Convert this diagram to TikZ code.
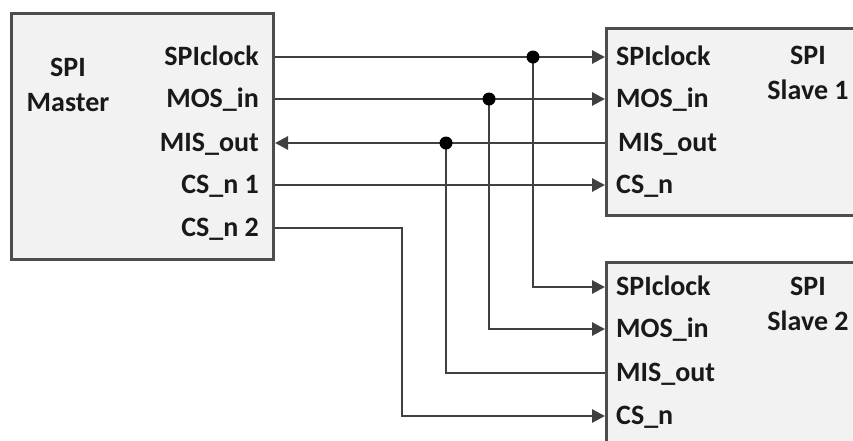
\documentclass[tikz,border=0pt]{standalone}
\usepackage{fontspec}
\setmainfont{Carlito}
\usetikzlibrary{arrows.meta,positioning}
\definecolor{wire}{HTML}{404040}
\definecolor{boxline}{HTML}{4D4D4D}
\definecolor{boxfill}{HTML}{F2F2F2}

\begin{document}
\begin{tikzpicture}[
  x=1pt, y=-1pt,
  font=\fontsize{28}{35}\selectfont\bfseries,
  block/.style={draw=boxline, line width=3pt, fill=boxfill, anchor=north west, inner sep=0pt},
  port/.style={text height=17pt, text depth=0pt, inner sep=0pt, text=black!90},
  title/.style={align=center, inner sep=0pt, text=black!90},
  sig/.style={draw=wire, line width=2.8pt},
  arr/.style={sig, -{Triangle[length=13pt,width=13pt]}},
  dot/.style={circle, fill=black, minimum size=13pt, inner sep=0pt}
]
\useasboundingbox (0,0) rectangle (853,440);

% blocks
\node[block, minimum width=262pt, minimum height=246pt] (master) at (10,12) {};
\node[block, minimum width=270pt, minimum height=187pt] (slave1) at (605,27) {};
\node[block, minimum width=270pt, minimum height=210pt, below=44pt of slave1.south west, anchor=north west] (slave2) {};

% titles
\node[title] (mtitle) at (68,85) {SPI\\Master};
\node[title] (s1title) at (808,73) {SPI\\Slave 1};
\node[title] (s2title) at (808,304) {SPI\\Slave 2};

% master ports
\node[port, anchor=east] (mclk) at (259,57) {SPIclock};
\node[port, anchor=east] (mmosi) at (259,99) {MOS\_in};
\node[port, anchor=east] (mmiso) at (259,143) {MIS\_out};
\node[port, anchor=east] (mcs1) at (259,185) {CS\_n 1};
\node[port, anchor=east] (mcs2) at (259,228) {CS\_n 2};

% slave ports
\node[port, anchor=west] (s1clk) at (616,57) {SPIclock};
\node[port, anchor=west] (s1mosi) at (616,99) {MOS\_in};
\node[port, anchor=west] (s1miso) at (618,143) {MIS\_out};
\node[port, anchor=west] (s1cs) at (616,185) {CS\_n};
\node[port, anchor=west] (s2clk) at (616,287) {SPIclock};
\node[port, anchor=west] (s2mosi) at (616,329) {MOS\_in};
\node[port, anchor=west] (s2miso) at (616,373) {MIS\_out};
\node[port, anchor=west] (s2cs) at (616,416) {CS\_n};

% junctions
\coordinate (jclk) at (533,57);
\coordinate (jmosi) at (489,99);
\coordinate (jmiso) at (446,143);
\coordinate (bend) at (402,228);

% bus lines
\draw[arr] (master.east |- mclk) -- (slave1.west |- s1clk);
\draw[arr] (master.east |- mmosi) -- (slave1.west |- s1mosi);
\draw[arr] (slave1.west |- s1miso) -- (master.east |- mmiso);
\draw[arr] (master.east |- mcs1) -- (slave1.west |- s1cs);
\draw[arr] (jclk) |- (slave2.west |- s2clk);
\draw[arr] (jmosi) |- (slave2.west |- s2mosi);
\draw[sig] (jmiso) |- (slave2.west |- s2miso);
\draw[arr] (master.east |- mcs2) -- (bend) |- (slave2.west |- s2cs);

\foreach \j in {jclk,jmosi,jmiso}
  \node[dot] (\j-dot) at (\j) {};
\end{tikzpicture}
\end{document}
